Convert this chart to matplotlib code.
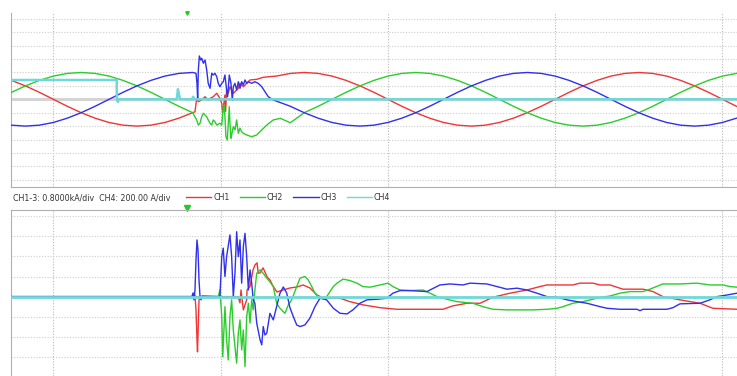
import numpy as np
import matplotlib
matplotlib.use('Agg')
import matplotlib.pyplot as plt
from matplotlib.lines import Line2D
from matplotlib import font_manager

# time in ms, values in divisions
sample_ms = 20.0 / 24.0
x_min, x_max = -2.53, 40.87
trigger_ms = 8.0

# ---------- upper panel: CH1-3 currents ----------
k_pre = np.arange(-3, 11)
ch1_pre = [1.41, 1.0, 0.52, 0, -0.52, -1.0, -1.41, -1.73, -1.93, -2.0, -1.93, -1.73, -1.41, -1.0]
ch2_pre = [0.52, 1.0, 1.41, 1.73, 1.93, 2.0, 1.93, 1.73, 1.41, 1.0, 0.52, 0, -0.52, -1.0]
ch3_pre = [-1.93, -2.0, -1.93, -1.73, -1.41, -1.0, -0.52, 0, 0.52, 1.0, 1.41, 1.73, 1.93, 2.0]

ch1_fault_t = [8.47, 8.57, 8.67, 8.87, 9.07, 9.26, 9.37, 9.56, 9.77, 9.96, 10.07, 10.12, 10.16, 10.26,
               10.30, 10.36, 10.46, 10.56, 10.76, 10.96, 11.06, 11.16, 11.36, 11.76, 12.16, 12.55, 12.95]
ch1_fault = [-0.93, 0.07, -0.18, -0.05, 0.19, -0.05, 0.07, 0.19, 0.45, 0.07, -0.30, -1.0, -0.67, 0.32,
             -0.9, 0.69, 0.45, 0.94, 0.45, 0.69, 0.82, 1.19, 0.94, 1.44, 1.49, 1.64, 1.69]
ch2_fault_t = [8.57, 8.67, 8.77, 8.87, 8.97, 9.17, 9.26, 9.37, 9.47, 9.56, 9.66, 9.77, 9.96, 10.07,
               10.16, 10.22, 10.26, 10.32, 10.40, 10.46, 10.52, 10.56, 10.62, 10.68, 10.76, 10.86,
               10.96, 11.06, 11.16, 11.26, 11.36, 11.56, 11.86, 12.16, 12.46, 12.76, 13.15, 13.57, 14.17]
ch2_fault = [-1.54, -1.92, -1.79, -1.30, -1.04, -1.30, -1.54, -1.79, -1.92, -1.54, -1.67, -1.92, -1.79, -1.92,
             -0.55, -0.43, -1.30, -2.79, -3.04, -1.79, -0.55, -1.79, -2.91, -2.54, -2.04, -2.29,
             -1.54, -2.54, -2.16, -2.42, -2.54, -2.66, -2.79, -2.66, -2.29, -1.92, -1.54, -1.42, -1.75]
ch3_fault_t = [8.53, 8.59, 8.63, 8.67, 8.73, 8.81, 8.87, 8.97, 9.07, 9.17, 9.26, 9.37, 9.47, 9.56, 9.66,
               9.77, 9.86, 9.96, 10.07, 10.16, 10.26, 10.36, 10.42, 10.52, 10.62, 10.70, 10.76, 10.86,
               10.96, 11.06, 11.16, 11.26, 11.36, 11.46, 11.56, 11.66, 11.86, 12.05, 12.25, 12.46,
               12.65, 12.85, 13.15]
ch3_fault = [1.94, 1.19, -0.05, 2.19, 3.23, 2.93, 3.06, 2.69, 2.93, 2.19, 1.19, 0.82, 1.94, 1.81, 1.94,
             1.69, 1.19, 0.94, 1.19, 1.31, 1.81, 0.69, 0.19, 1.81, 1.19, -0.05, 0.94, 1.19,
             0.69, 1.31, 0.82, 1.31, 1.07, 1.44, 1.19, 1.31, 1.19, 1.31, 1.19, 0.94,
             0.57, 0.19, -0.05]

ch1_post = [1.73, 1.93, 2.0, 1.93, 1.73, 1.41, 1.0, 0.52, 0, -0.52, -1.0, -1.41, -1.73, -1.93, -2.0, -1.93, -1.73,
            -1.41, -1.0, -0.52, 0, 0.52, 1.0, 1.41, 1.73, 1.93, 2.0, 1.93, 1.73, 1.41, 1.0, 0.52, 0, -0.52]
ch2_post = [-1.0, -0.52, 0, 0.52, 1.0, 1.41, 1.73, 1.93, 2.0, 1.93, 1.73, 1.41, 1.0, 0.52, 0, -0.52, -1.0,
            -1.41, -1.73, -1.93, -2.0, -1.93, -1.73, -1.41, -1.0, -0.52, 0, 0.52, 1.0, 1.41, 1.73, 1.93]
ch3_post = [-0.52, -1.0, -1.41, -1.73, -1.93, -2.0, -1.93, -1.73, -1.41, -1.0, -0.52, 0, 0.52, 1.0, 1.41, 1.73,
            1.93, 2.0, 1.93, 1.73, 1.41, 1.0, 0.52, 0, -0.52, -1.0, -1.41, -1.73, -1.93, -2.0, -1.93, -1.73, -1.41]
ch1_post_k0, ch2_post_k0, ch3_post_k0 = 16, 18, 17

ch4_top_t = [x_min, 3.79, 3.80, 3.86, 3.92, 7.38, 7.45, 7.50, 7.58, 8.30, 8.36, 8.42, x_max]
ch4_top = [1.44, 1.44, 0, -0.2, 0, 0, 0.75, 0.45, 0, 0, 0.19, 0, 0]

# ---------- lower panel ----------
ch1_low_t = [x_min, 8.35, 8.41, 8.47, 8.53, 8.59, 8.62, 8.65, 8.71, 8.77, 11.04, 11.16, 11.22, 11.36,
             11.56, 11.58, 11.76, 11.94, 12.06, 12.18, 12.25, 12.36, 12.54, 12.78, 12.95, 13.13, 13.37,
             13.73, 14.15, 14.57, 14.93, 15.34, 15.76, 16.12, 16.54, 17.14, 17.73, 18.51, 19.53, 20.54,
             23.29, 23.89, 24.73, 25.51, 26.28, 27.30, 28.31, 29.09, 29.51, 31.06, 31.48, 32.26, 32.68,
             33.28, 34.05, 35.25, 35.85, 36.44, 37.46, 38.66, 39.43, x_max]
ch1_low = [0, 0, 0.18, 0.03, -0.66, -2.15, -2.75, -1.91, -0.16, 0, 0, -0.31, 0.33, -0.66,
           -0.16, 0.33, 0.50, 1.33, 1.58, 1.68, 1.16, 1.18, 1.43, 0.98, 0.83, 0.53, 0.23,
           0.33, 0.43, 0.48, 0.58, 0.43, 0.08, -0.06, -0.08, -0.08, -0.25, -0.41, -0.55, -0.63,
           -0.63, -0.46, -0.33, -0.33, -0.03, 0.17, 0.33, 0.50, 0.58, 0.58, 0.67, 0.67, 0.58,
           0.58, 0.37, 0.37, 0.25, 0, -0.16, -0.33, -0.58, -0.63]
ch2_low_t = [x_min, 9.86, 9.96, 10.07, 10.13, 10.20, 10.26, 10.36, 10.46, 10.56, 10.66, 10.76, 10.86,
             10.96, 11.06, 11.16, 11.26, 11.36, 11.46, 11.56, 11.66, 11.76, 11.86, 11.95, 12.05, 12.16,
             12.36, 12.55, 12.76, 12.95, 13.15, 13.35, 13.55, 13.75, 13.85, 14.05, 14.25, 14.55, 14.75,
             15.04, 15.24, 15.45, 15.64, 15.94, 16.34, 16.74, 16.96, 17.32, 17.73, 18.15, 18.51, 18.93,
             19.53, 20.01, 20.30, 20.72, 21.32, 22.10, 22.52, 22.94, 23.53, 24.13, 25.08, 25.68, 26.28,
             27.12, 28.67, 29.51, 30.11, 30.47, 31.06, 31.66, 32.26, 32.68, 33.28, 33.87, 34.47, 35.25,
             35.66, 36.44, 37.46, 38.47, 39.25, 40.03, 40.45, x_max]
ch2_low = [0, 0, 0.33, -1.00, -2.99, -1.66, -0.50, -2.15, -3.15, -1.00, -0.16, -1.66, -2.49,
           -3.31, -1.82, -1.16, -2.65, -1.66, -3.48, -1.00, -0.33, -1.32, -0.16, -0.66, 0.33, 1.16,
           1.33, 1.16, 0.92, 0.73, 0.50, -0.33, -0.58, -0.75, -0.83, -0.41, -0.16, 0.50, 0.92,
           1.00, 0.83, 0.50, 0.17, -0.08, 0, 0.50, 0.67, 0.87, 0.80, 0.67, 0.50, 0.47,
           0.58, 0.67, 0.50, 0.33, 0.30, 0.33, 0.17, 0, -0.13, -0.25, -0.33, -0.50, -0.63,
           -0.66, -0.66, -0.63, -0.58, -0.50, -0.33, -0.25, -0.13, -0.04, 0.03, 0.17, 0.25, 0.25,
           0.37, 0.63, 0.63, 0.67, 0.58, 0.58, 0.50, 0.47]
ch3_low_t = [x_min, 8.29, 8.35, 8.41, 8.47, 8.53, 8.59, 8.65, 8.71, 8.77, 8.83, 8.89, 9.96, 10.07,
             10.16, 10.26, 10.36, 10.56, 10.66, 10.76, 10.86, 10.96, 11.06, 11.16, 11.26, 11.36, 11.46,
             11.56, 11.66, 11.76, 11.86, 11.95, 12.05, 12.16, 12.36, 12.46, 12.55, 12.65, 12.76, 12.95,
             13.15, 13.35, 13.55, 13.75, 13.95, 14.15, 14.35, 14.55, 14.75, 15.04, 15.34, 15.64, 15.94,
             16.34, 16.74, 17.14, 17.56, 17.91, 18.33, 18.75, 19.35, 19.95, 20.30, 20.72, 21.32, 22.34,
             22.52, 23.11, 23.71, 24.49, 24.91, 25.92, 26.52, 27.12, 27.72, 28.31, 28.91, 29.51, 30.11,
             30.71, 31.30, 31.90, 32.68, 33.10, 33.87, 34.89, 35.07, 35.25, 36.68, 37.04, 37.46, 38.66,
             39.25, 39.67, 40.27, x_max]
ch3_low = [0, 0, 0.18, -0.16, 0.33, 1.83, 2.82, 2.32, 0.83, 0, -0.16, 0.03, 0, 1.99,
           2.41, 1.00, 1.99, 3.07, 1.99, 0, 1.16, 3.23, 1.99, 2.82, 0.67, 2.49, 3.15,
           1.99, 0.33, 1.33, 0.67, -0.16, -0.33, -1.32, -2.15, -2.40, -1.49, -1.91, -1.82, -0.83,
           -1.16, -0.50, 0.17, 0.48, 0.18, -0.56, -1.00, -1.41, -1.49, -1.41, -1.07, -0.50, -0.08,
           -0.16, -0.58, -0.83, -0.86, -0.66, -0.33, -0.16, -0.13, -0.08, 0.17, 0.30, 0.30, 0.25,
           0.33, 0.58, 0.63, 0.58, 0.67, 0.63, 0.50, 0.37, 0.42, 0.33, 0.17, 0, -0.03,
           -0.16, -0.25, -0.33, -0.50, -0.58, -0.63, -0.63, -0.70, -0.63, -0.63, -0.55, -0.36, -0.33,
           -0.16, 0, 0.08, 0.17]
ch4_low_t = [x_min, x_max]
ch4_low = [0, 0]

channels = ['CH1', 'CH2', 'CH3', 'CH4']
colors = {'CH1': '#f03535', 'CH2': '#2ccc2c', 'CH3': '#3030ee', 'CH4': '#6fd8d8'}
scale_text = 'CH1-3: 0.8000kA/div  CH4: 200.00 A/div'


def join(k_pre_idx, pre, fault_t, fault, k0, post):
    t_post = np.arange(k0, k0 + len(post)) * sample_ms
    t = np.concatenate([k_pre_idx * sample_ms, fault_t, t_post])
    v = np.concatenate([pre, fault, post])
    return t, v


def style_axes(ax, ylim, edge_spine):
    ax.set_xlim(x_min, x_max)
    ax.set_ylim(*ylim)
    ax.set_xticks([0, 10, 20, 30, 40])
    ax.set_yticks(np.arange(int(np.ceil(ylim[0])), int(np.floor(ylim[1])) + 1))
    ax.tick_params(length=0, labelbottom=False, labelleft=False)
    ax.grid(axis='y', color='#cccccc', linestyle=(0, (1, 1.5)), linewidth=0.8)
    ax.grid(axis='x', color='#b8b8b8', linestyle=(0, (1, 1.5)), linewidth=0.8)
    ax.set_axisbelow(True)
    for side in ['top', 'right', 'bottom', 'left']:
        ax.spines[side].set_visible(side in ('left', edge_spine))
        ax.spines[side].set_color('#b0b0b0')


fig = plt.figure(figsize=(7.37, 3.76), dpi=100)
ax_top = fig.add_axes([0.0149, 0.5027, 0.9851, 0.4636])
ax_low = fig.add_axes([0.0149, 0.0, 0.9851, 0.4415])

style_axes(ax_top, (-6.54, 6.46), 'bottom')
style_axes(ax_low, (-3.95, 4.31), 'top')

ax_top.axhline(0, color='#d4d4d4', linewidth=2.2, zorder=1)

t1, v1 = join(k_pre, ch1_pre, ch1_fault_t, ch1_fault, ch1_post_k0, ch1_post)
t2, v2 = join(k_pre, ch2_pre, ch2_fault_t, ch2_fault, ch2_post_k0, ch2_post)
t3, v3 = join(k_pre, ch3_pre, ch3_fault_t, ch3_fault, ch3_post_k0, ch3_post)
ax_top.plot(t1, v1, color=colors['CH1'], linewidth=1.0, zorder=3)
ax_top.plot(t2, v2, color=colors['CH2'], linewidth=1.0, zorder=3)
ax_top.plot(t3, v3, color=colors['CH3'], linewidth=1.0, zorder=3)
ax_top.plot(ch4_top_t, ch4_top, color=colors['CH4'], linewidth=1.8, zorder=4)

ax_low.plot(ch1_low_t, ch1_low, color=colors['CH1'], linewidth=1.0, zorder=3)
ax_low.plot(ch2_low_t, ch2_low, color=colors['CH2'], linewidth=1.0, zorder=3)
ax_low.plot(ch3_low_t, ch3_low, color=colors['CH3'], linewidth=1.0, zorder=3)
ax_low.plot(ch4_low_t, ch4_low, color=colors['CH4'], linewidth=2.0, zorder=4)

# trigger markers
ax_low.plot([trigger_ms], [1.012], marker='v', markersize=4.5, color='#22cc22',
            transform=ax_low.get_xaxis_transform(), clip_on=False, linestyle='none')
ax_top.plot([trigger_ms], [1.0], marker='v', markersize=2.5, color='#22cc22',
            transform=ax_top.get_xaxis_transform(), clip_on=False, linestyle='none')

# scale text and channel legend in the strip between the panels
label_font = font_manager.FontProperties(family='DejaVu Sans', stretch='condensed', size=6.3)
fig.text(0.0172, 0.4742, scale_text, color='#333333', va='center', ha='left',
         fontproperties=label_font)

handles = [Line2D([], [], color=colors[name], linewidth=1.0) for name in channels]
fig.legend(handles, channels, loc='center left', bbox_to_anchor=(0.2524, 0.4742),
           ncol=4, frameon=False, handlelength=2.9, handletextpad=0.2,
           columnspacing=1.15, borderpad=0, borderaxespad=0,
           prop=label_font, labelcolor='#333333')

fig.savefig('out.png', dpi=100)
